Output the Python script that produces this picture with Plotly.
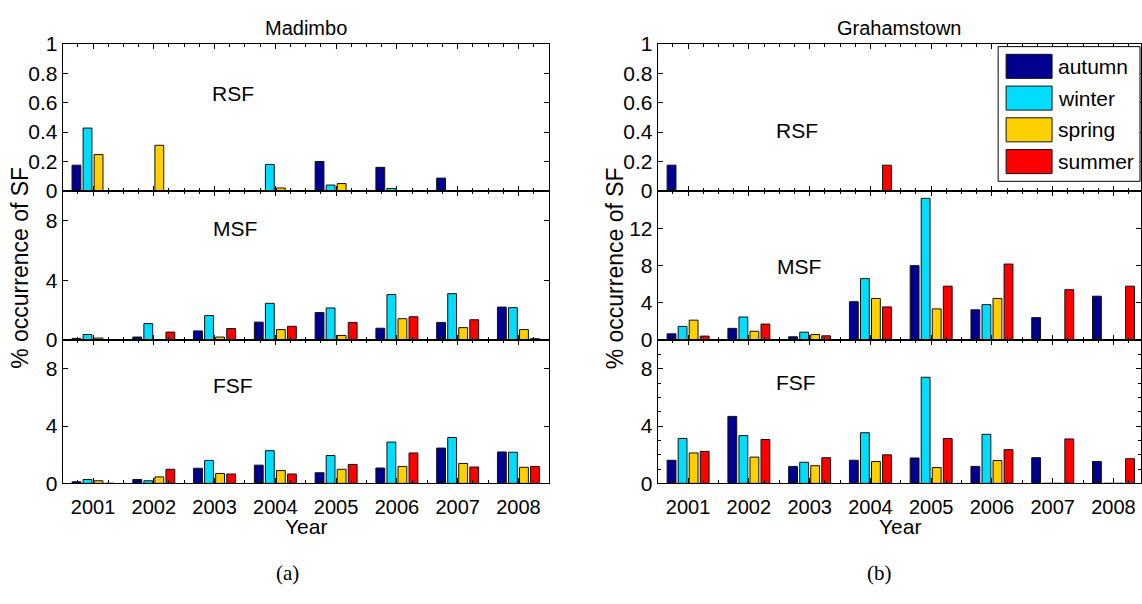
import plotly.graph_objects as go

# ---------------- data ----------------
years = [2001, 2002, 2003, 2004, 2005, 2006, 2007, 2008]
seasons = ["autumn", "winter", "spring", "summer"]
season_colors = ["#00008F", "#00DDFF", "#FFD000", "#FF0000"]
stations = ["Madimbo", "Grahamstown"]
sf_types = ["RSF", "MSF", "FSF"]
captions = ["(a)", "(b)"]

# Madimbo
mad_rsf = {
    "autumn": [0.175, 0, 0, 0, 0.20, 0.16, 0.087, 0],
    "winter": [0.427, 0, 0, 0.18, 0.04, 0.017, 0, 0],
    "spring": [0.247, 0.31, 0, 0.02, 0.05, 0, 0, 0],
    "summer": [0, 0, 0, 0, 0, 0, 0, 0],
}
mad_msf = {
    "autumn": [0.11, 0.20, 0.61, 1.20, 1.84, 0.79, 1.18, 2.21],
    "winter": [0.37, 1.10, 1.64, 2.46, 2.15, 3.05, 3.11, 2.17],
    "spring": [0.13, 0.02, 0.20, 0.70, 0.31, 1.43, 0.83, 0.70],
    "summer": [0, 0.53, 0.77, 0.92, 1.18, 1.56, 1.36, 0.09],
}
mad_fsf = {
    "autumn": [0.11, 0.27, 1.05, 1.27, 0.74, 1.07, 2.46, 2.19],
    "winter": [0.27, 0.18, 1.60, 2.28, 1.94, 2.88, 3.20, 2.17],
    "spring": [0.18, 0.45, 0.69, 0.89, 0.98, 1.18, 1.39, 1.12],
    "summer": [0, 0.98, 0.65, 0.65, 1.32, 2.12, 1.14, 1.18],
}
# Grahamstown
gra_rsf = {
    "autumn": [0.175, 0, 0, 0, 0, 0, 0, 0],
    "winter": [0, 0, 0, 0, 0, 0, 0, 0],
    "spring": [0, 0, 0, 0, 0, 0, 0, 0],
    "summer": [0, 0, 0, 0.175, 0, 0, 0, 0],
}
gra_msf = {
    "autumn": [0.66, 1.25, 0.35, 4.11, 7.98, 3.24, 2.40, 4.70],
    "winter": [1.46, 2.47, 0.84, 6.59, 15.2, 3.80, 0, 0],
    "spring": [2.13, 0.94, 0.59, 4.46, 3.34, 4.46, 0, 0],
    "summer": [0.42, 1.71, 0.45, 3.55, 5.78, 8.15, 5.40, 5.78],
}
gra_fsf = {
    "autumn": [1.61, 4.67, 1.18, 1.61, 1.77, 1.18, 1.79, 1.52],
    "winter": [3.13, 3.33, 1.47, 3.53, 7.40, 3.42, 0, 0],
    "spring": [2.12, 1.83, 1.23, 1.52, 1.10, 1.59, 0, 0],
    "summer": [2.23, 3.06, 1.79, 1.99, 3.13, 2.35, 3.10, 1.72],
}

# y-axis settings per panel: (range, tick values)
y_ranges = {"RSF": [0, 1], "MSF": [0, 10], "FSF": [0, 10]}
gra_msf_range = [0, 16]
rsf_ticks = [0, 0.2, 0.4, 0.6, 0.8, 1]
lower_ticks = [0, 4, 8]
gra_msf_ticks = [0, 4, 8, 12]

# ---------------- layout helpers ----------------
W, H = 1142, 604
def px(x):
    return x / W
def py(y):
    return 1 - y / H

FONT = "Liberation Sans, Arial, Helvetica, sans-serif"
SERIF = "Liberation Serif, DejaVu Serif, serif"

x_domains = [[px(62.7), px(549.3)], [px(658.3), 1.0]]
x_ranges = [[2000.5, 2008.5], [2000.5, 2000.5 + (W - 658.3) / 60.82]]
y_domains = {"RSF": [py(186), py(33)], "MSF": [py(341), py(186)], "FSF": [py(490), py(341)]}

fig = go.Figure()

panels = [
    (0, "RSF", mad_rsf), (0, "MSF", mad_msf), (0, "FSF", mad_fsf),
    (1, "RSF", gra_rsf), (1, "MSF", gra_msf), (1, "FSF", gra_fsf),
]

layout_axes = {}
for k, (col, typ, data) in enumerate(panels, start=1):
    xa = "x" if k == 1 else f"x{k}"
    ya = "y" if k == 1 else f"y{k}"
    for i, s in enumerate(seasons):
        fig.add_trace(go.Bar(
            x=years, y=data[s], name=s,
            marker=dict(color=season_colors[i], line=dict(color="#111111", width=1)),
            xaxis=xa, yaxis=ya, showlegend=False,
        ))
    if col == 1 and typ == "MSF":
        yr, yt = gra_msf_range, gra_msf_ticks
    elif typ == "RSF":
        yr, yt = y_ranges[typ], rsf_ticks
    else:
        yr, yt = y_ranges[typ], lower_ticks
    yt_text = [("%g" % v) for v in yt]
    xaxis = dict(
        domain=x_domains[col], range=x_ranges[col], anchor=ya,
        tickvals=years, ticktext=[str(y) for y in years],
        showticklabels=(typ == "FSF"),
        ticks="inside", ticklen=5, tickcolor="black", tickwidth=1,
        minor=dict(dtick=0.25, tick0=2000.5, ticks="inside", ticklen=3,
                   tickcolor="black", tickwidth=1, showgrid=False),
        showline=True, linecolor="black", linewidth=1, mirror="allticks",
        showgrid=False, zeroline=False, fixedrange=True,
        tickfont=dict(family=FONT, size=20, color="black"),
        ticklabelstandoff=6,
    )
    yaxis = dict(
        domain=y_domains[typ], range=yr, anchor=xa,
        tickvals=yt, ticktext=yt_text,
        ticks="inside", ticklen=5, tickcolor="black", tickwidth=1,
        showline=True, linecolor="black", linewidth=1, mirror="allticks",
        showgrid=False, zeroline=False, fixedrange=True,
        tickfont=dict(family=FONT, size=21, color="black"),
    )
    if col == 1 and typ == "FSF":
        yaxis["minor"] = dict(dtick=1, ticks="inside", ticklen=3, tickcolor="black", showgrid=False)
    layout_axes["xaxis" if k == 1 else f"xaxis{k}"] = xaxis
    layout_axes["yaxis" if k == 1 else f"yaxis{k}"] = yaxis

annotations = []
# station titles
title_x = [306, 900]
for col, name in enumerate(stations):
    annotations.append(dict(text=name, x=px(title_x[col]), y=py(17), xref="paper", yref="paper",
                            showarrow=False, font=dict(family=FONT, size=20, color="black"),
                            xanchor="center", yanchor="middle"))
# panel labels
label_pos = {
    (0, "RSF"): (233, 85), (0, "MSF"): (235, 225), (0, "FSF"): (233, 388),
    (1, "RSF"): (798, 123), (1, "MSF"): (800, 265), (1, "FSF"): (797, 385),
}
for (col, typ), (lx, ly) in label_pos.items():
    annotations.append(dict(text=typ, x=px(lx), y=py(ly), xref="paper", yref="paper",
                            showarrow=False, font=dict(family=FONT, size=21, color="black"),
                            xanchor="center", yanchor="middle"))
# y titles
for xpos in [20, 615]:
    annotations.append(dict(text="% occurrence of SF", x=px(xpos), y=py(266), xref="paper", yref="paper",
                            showarrow=False, textangle=-90, font=dict(family=FONT, size=23, color="black"),
                            xanchor="center", yanchor="middle"))
# x titles
for xpos in [306, 901]:
    annotations.append(dict(text="Year", x=px(xpos), y=py(535), xref="paper", yref="paper",
                            showarrow=False, font=dict(family=FONT, size=21, color="black"),
                            xanchor="center", yanchor="middle"))
# captions
for xpos, cap in zip([288, 880], captions):
    annotations.append(dict(text=cap, x=px(xpos), y=py(583), xref="paper", yref="paper",
                            showarrow=False, font=dict(family=SERIF, size=21, color="black"),
                            xanchor="center", yanchor="middle"))

# custom legend (MATLAB style big swatches)
shapes = [dict(type="rect", xref="paper", yref="paper",
               x0=px(999), x1=px(1141), y0=py(176), y1=py(36),
               line=dict(color="black", width=1), fillcolor="white", layer="above")]
row_tops = [44, 77, 110, 143]
for i, s in enumerate(seasons):
    t = row_tops[i]
    shapes.append(dict(type="rect", xref="paper", yref="paper",
                       x0=px(1007), x1=px(1053), y0=py(t + 25), y1=py(t),
                       line=dict(color="#111111", width=1), fillcolor=season_colors[i], layer="above"))
    annotations.append(dict(text=s, x=px(1057), y=py(t + 12.5), xref="paper", yref="paper",
                            showarrow=False, font=dict(family=FONT, size=21, color="black"),
                            xanchor="left", yanchor="middle"))

fig.update_layout(
    width=W, height=H,
    margin=dict(l=0, r=0, t=0, b=0),
    paper_bgcolor="white", plot_bgcolor="white",
    barmode="group", bargap=0.273, bargroupgap=0.2,
    annotations=annotations, shapes=shapes,
    showlegend=False,
    **layout_axes,
)

fig.write_html(
    "out.html",
    config={"displayModeBar": False},
    post_script="document.body.style.margin='0px';document.body.style.overflow='hidden';",
)
